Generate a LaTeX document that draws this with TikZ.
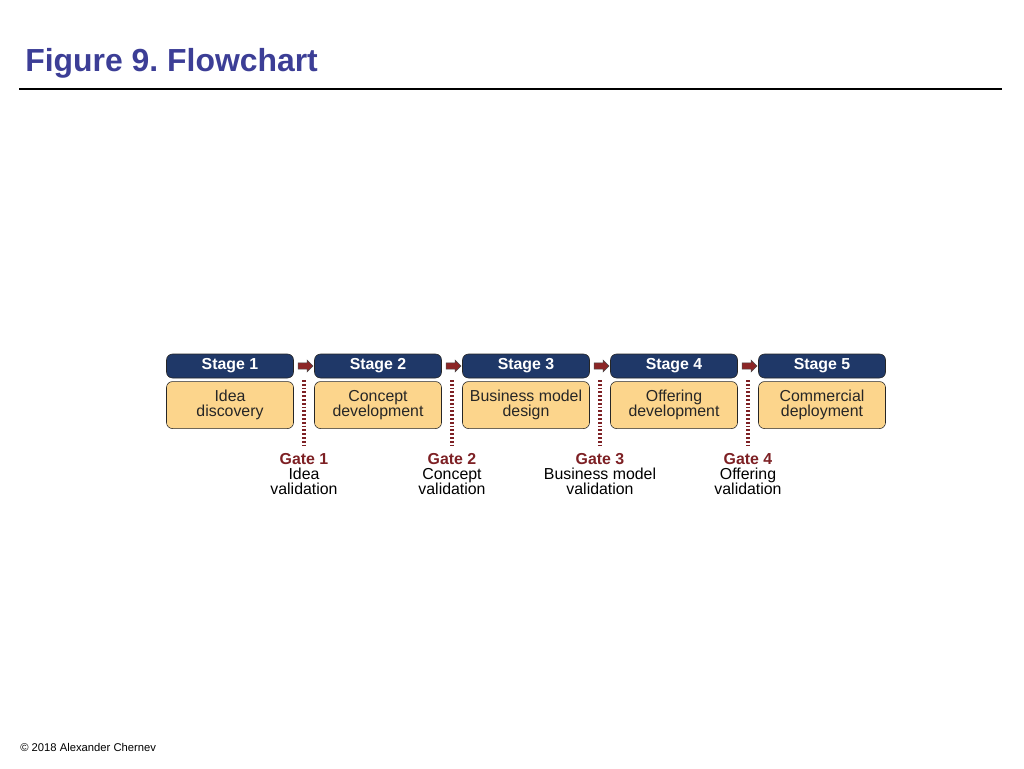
\documentclass[tikz,border=0pt]{standalone}
\usepackage{fontspec}
\setmainfont{Liberation Sans}
\usetikzlibrary{positioning,shapes.arrows}

\definecolor{titleblue}{RGB}{60,62,150}
\definecolor{stagenavy}{RGB}{31,56,104}
\definecolor{taskorange}{RGB}{252,213,140}
\definecolor{gatered}{RGB}{125,32,36}
\definecolor{arrowred}{RGB}{140,38,38}

\begin{document}
\begin{tikzpicture}[x=0.25mm,y=-0.25mm,node distance=37mm,
  stage/.style={draw=black!85,fill=stagenavy,rounded corners=1.5mm,minimum width=31.75mm,minimum height=6mm,inner sep=0,text=white,font=\fontsize{11.3}{12}\selectfont\bfseries},
  task/.style={draw=black!85,fill=taskorange,rounded corners=1.5mm,minimum width=31.75mm,minimum height=11.75mm,inner sep=0,align=center,text=black!85,font=\fontsize{11.3}{10.8}\selectfont},
  gatearrow/.style={single arrow,draw=black!70,fill=arrowred,minimum height=3.75mm,inner sep=0.7mm,single arrow head extend=0.7mm},
  gateline/.style={draw=gatered,line width=0.8mm,dash pattern=on 0.45mm off 0.5mm},
  gate/.style={align=center,inner sep=1mm,font=\fontsize{11.3}{11}\selectfont}]

\useasboundingbox (0,0) rectangle (1024,768);

% heading
\node[anchor=base west,inner sep=0,text=titleblue,font=\fontsize{22.7}{26}\selectfont\bfseries] (title) at (25,71) {Figure 9.\ Flowchart};
\draw[line width=0.3mm] (19,89) -- (1002,89);

% stages
\node[stage] (s1) at (230,366) {Stage 1};
\node[stage] (s2) [right of=s1] {Stage 2};
\node[stage] (s3) [right of=s2] {Stage 3};
\node[stage] (s4) [right of=s3] {Stage 4};
\node[stage] (s5) [right of=s4] {Stage 5};

\node[task] (t1) [below=0.75mm of s1] {Idea\\discovery};
\node[task] (t2) [below=0.75mm of s2] {Concept\\development};
\node[task] (t3) [below=0.75mm of s3] {Business model\\design};
\node[task] (t4) [below=0.75mm of s4] {Offering\\development};
\node[task] (t5) [below=0.75mm of s5] {Commercial\\deployment};

% gates
\node[gatearrow] (a1) [right of=s1,node distance=18.5mm] {};
\node[gatearrow] (a2) [right of=s2,node distance=18.5mm] {};
\node[gatearrow] (a3) [right of=s3,node distance=18.5mm] {};
\node[gatearrow] (a4) [right of=s4,node distance=18.5mm] {};

\node[gate] (g1) [below of=a1,node distance=27mm] {\textcolor{gatered}{\bfseries Gate 1}\\Idea\\validation};
\node[gate] (g2) [below of=a2,node distance=27mm] {\textcolor{gatered}{\bfseries Gate 2}\\Concept\\validation};
\node[gate] (g3) [below of=a3,node distance=27mm] {\textcolor{gatered}{\bfseries Gate 3}\\Business model\\validation};
\node[gate] (g4) [below of=a4,node distance=27mm] {\textcolor{gatered}{\bfseries Gate 4}\\Offering\\validation};

\draw[gateline] ([yshift=-3.5mm]a1.center) -- ([yshift=1mm]g1.north);
\draw[gateline] ([yshift=-3.5mm]a2.center) -- ([yshift=1mm]g2.north);
\draw[gateline] ([yshift=-3.5mm]a3.center) -- ([yshift=1mm]g3.north);
\draw[gateline] ([yshift=-3.5mm]a4.center) -- ([yshift=1mm]g4.north);

\node[anchor=base west,inner sep=0,font=\fontsize{8}{9}\selectfont] (copy) at (20,751) {\textcopyright{} 2018 Alexander Chernev};

\end{tikzpicture}
\end{document}
